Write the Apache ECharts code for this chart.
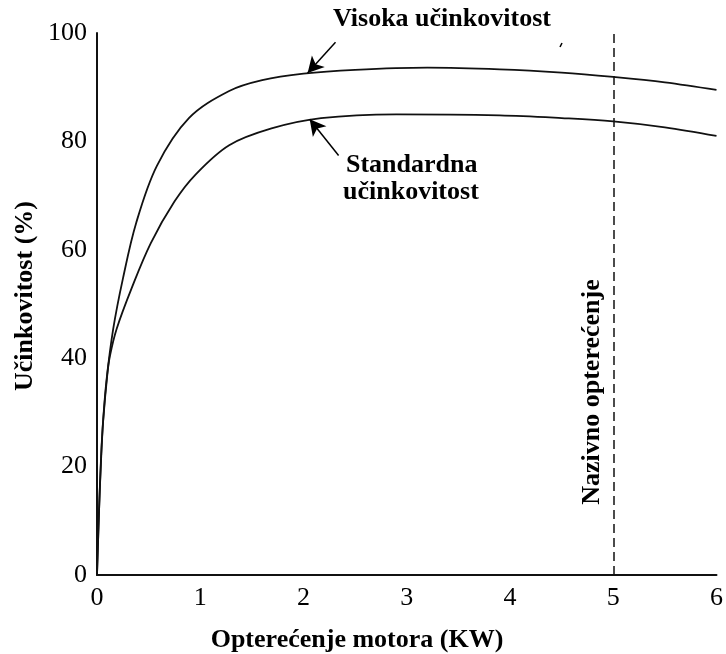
<!DOCTYPE html>
<html>
<head>
<meta charset="utf-8">
<script src="https://cdn.jsdelivr.net/npm/echarts@6/dist/echarts.min.js"></script>
<style>
html,body{margin:0;padding:0;background:#fff;}
#c{width:726px;height:654px;}
</style>
</head>
<body>
<div id="c"></div>
<script>
// Load (kW) and efficiency (%)
var highX = [0, 0.02, 0.04, 0.06, 0.093, 0.157, 0.25, 0.38, 0.58, 0.89, 1.28, 1.6, 2.0, 2.5, 3.2, 3.9, 4.5, 5.0, 5.5, 6.0];
var highY = [0, 12, 22, 28.7, 36.1, 45.4, 54.6, 65, 75.5, 84.3, 89.3, 91.3, 92.5, 93.2, 93.6, 93.3, 92.7, 91.9, 90.9, 89.5];
var stdX = [0, 0.02, 0.04, 0.06, 0.1, 0.125, 0.19, 0.333, 0.52, 0.75, 0.95, 1.28, 1.69, 2.17, 2.9, 3.9, 4.5, 5.0, 5.5, 6.0];
var stdY = [0, 12, 21.5, 28.5, 37, 40.4, 45.4, 52.8, 61.2, 68.9, 73.8, 79.3, 82.4, 84.3, 85, 84.8, 84.3, 83.7, 82.6, 81];
var xTicks = [0, 1, 2, 3, 4, 5, 6];
var yTicks = [0, 20, 40, 60, 80, 100];
var ratedLoad = 5;
var highLabel = 'Visoka učinkovitost';
var stdLabel1 = 'Standardna';
var stdLabel2 = 'učinkovitost';
var ratedLabel = 'Nazivno opterećenje';
var xName = 'Opterećenje motora (KW)';
var yName = 'Učinkovitost (%)';
// arrow annotations [from, to] in data coords
var highArrow = [[2.31, 98.3], [2.04, 92.6]];
var stdArrow = [[2.34, 77.4], [2.06, 84.1]];

function zip(a, b) { return a.map(function (v, i) { return [v, b[i]]; }); }

var serif = '"Liberation Serif", "Times New Roman", serif';
var chart = echarts.init(document.getElementById('c'), null, {renderer: 'canvas'});

var arrowLine = {color: '#000', width: 1.5, type: 'solid'};

chart.setOption({
  animation: false,
  backgroundColor: '#fff',
  grid: {left: 97, right: 5, top: 33, bottom: 79, containLabel: false},
  xAxis: {
    type: 'value', min: 0, max: 6, interval: 1,
    axisLine: {show: true, lineStyle: {color: '#111', width: 2}},
    axisTick: {show: false},
    splitLine: {show: false},
    axisLabel: {color: '#000', fontFamily: serif, fontSize: 26, margin: 10,
      formatter: function (v) { return xTicks.indexOf(v) >= 0 ? String(v) : ''; }}
  },
  yAxis: {
    type: 'value', min: 0, max: 100, interval: 20,
    axisLine: {show: true, onZero: false, lineStyle: {color: '#111', width: 2}},
    axisTick: {show: false},
    splitLine: {show: false},
    axisLabel: {color: '#000', fontFamily: serif, fontSize: 26, margin: 10,
      formatter: function (v) { return yTicks.indexOf(v) >= 0 ? String(v) : ''; }}
  },
  series: [
    {
      type: 'line', data: zip(highX, highY), smooth: 0.35,
      symbol: 'none', lineStyle: {color: '#111', width: 1.8},
      markLine: {
        silent: true, symbol: ['none', 'arrow'], symbolSize: [13, 16],
        label: {show: false}, lineStyle: arrowLine,
        data: [[{coord: highArrow[0]}, {coord: highArrow[1]}]]
      }
    },
    {
      type: 'line', data: zip(stdX, stdY), smooth: 0.35,
      symbol: 'none', lineStyle: {color: '#111', width: 1.8},
      markLine: {
        silent: true, symbol: ['none', 'arrow'], symbolSize: [13, 16],
        label: {show: false}, lineStyle: arrowLine,
        data: [[{coord: stdArrow[0]}, {coord: stdArrow[1]}]]
      }
    },
    {
      type: 'line', data: [],
      markLine: {
        silent: true, symbol: ['none', 'none'], label: {show: false},
        lineStyle: {color: '#111', width: 1.5, type: [9, 5]},
        data: [[{coord: [ratedLoad, 0]}, {coord: [ratedLoad, 100]}]]
      }
    }
  ],
  graphic: [
    {type: 'text', left: 333, top: 6, style: {text: highLabel, font: 'bold 26px ' + serif, fill: '#000'}},
    {type: 'text', left: 346, top: 152, style: {text: stdLabel1, font: 'bold 26px ' + serif, fill: '#000'}},
    {type: 'text', left: 343, top: 179, style: {text: stdLabel2, font: 'bold 26px ' + serif, fill: '#000'}},
    {type: 'text', x: 592, y: 392, rotation: Math.PI / 2,
      style: {text: ratedLabel, font: 'bold 26px ' + serif, fill: '#000', align: 'center', verticalAlign: 'middle'}},
    {type: 'text', x: 25, y: 296, rotation: Math.PI / 2,
      style: {text: yName, font: 'bold 26px ' + serif, fill: '#000', align: 'center', verticalAlign: 'middle'}},
    {type: 'text', x: 357, y: 640,
      style: {text: xName, font: 'bold 26px ' + serif, fill: '#000', align: 'center', verticalAlign: 'middle'}},
    {type: 'line', shape: {x1: 560, y1: 47, x2: 562, y2: 43}, style: {stroke: '#000', lineWidth: 1.5}}
  ]
});
</script>
</body>
</html>
